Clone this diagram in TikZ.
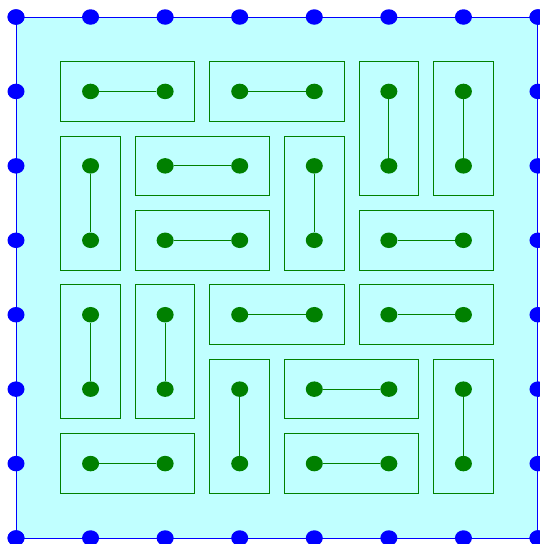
\documentclass[tikz,border=0pt]{standalone}
\usetikzlibrary{shapes.geometric}
\begin{document}
\begin{tikzpicture}[x=1pt,y=-1pt,
  bdot/.style={ellipse,fill=blue,inner sep=0pt,minimum width=17pt,minimum height=15.5pt},
  gdot/.style={ellipse,fill={rgb,255:red,0;green,128;blue,0},inner sep=0pt,minimum width=17pt,minimum height=15.5pt},
  dbox/.style={draw={rgb,255:red,0;green,128;blue,0},line width=1pt},
  dlink/.style={draw={rgb,255:red,0;green,128;blue,0},line width=1pt}]
\useasboundingbox (0,0) rectangle (540,544);
\def\gx#1{16+74.57*#1}
\def\gy#1{17+74.43*#1}
\fill[fill={rgb,255:red,192;green,255;blue,255},draw=blue,line width=1pt] ({\gx{0}},{\gy{0}}) rectangle ({\gx{7}},{\gy{7}});
% boundary dots
\foreach \i in {0,...,7}{
  \node[bdot] (t\i) at ({\gx{\i}},{\gy{0}}) {};
  \node[bdot] (b\i) at ({\gx{\i}},{\gy{7}}) {};
  \node[bdot] (l\i) at ({\gx{0}},{\gy{\i}}) {};
  \node[bdot] (r\i) at ({\gx{7}},{\gy{\i}}) {};
}
% dominoes: a b c d = col1 row1 col2 row2
\foreach \a/\b/\c/\d [count=\k] in {1/1/2/1,3/1/4/1,5/1/5/2,6/1/6/2,1/2/1/3,2/2/3/2,4/2/4/3,2/3/3/3,5/3/6/3,1/4/1/5,2/4/2/5,3/4/4/4,5/4/6/4,3/5/3/6,4/5/5/5,6/5/6/6,1/6/2/6,4/6/5/6}{
  \draw[dbox] ({\gx{\a}-29.8},{\gy{\b}-29.8}) rectangle ({\gx{\c}+29.8},{\gy{\d}+29.8});
  \node[gdot] (p\k) at ({\gx{\a}},{\gy{\b}}) {};
  \node[gdot] (q\k) at ({\gx{\c}},{\gy{\d}}) {};
  \draw[dlink] (p\k) -- (q\k);
}
\end{tikzpicture}
\end{document}
